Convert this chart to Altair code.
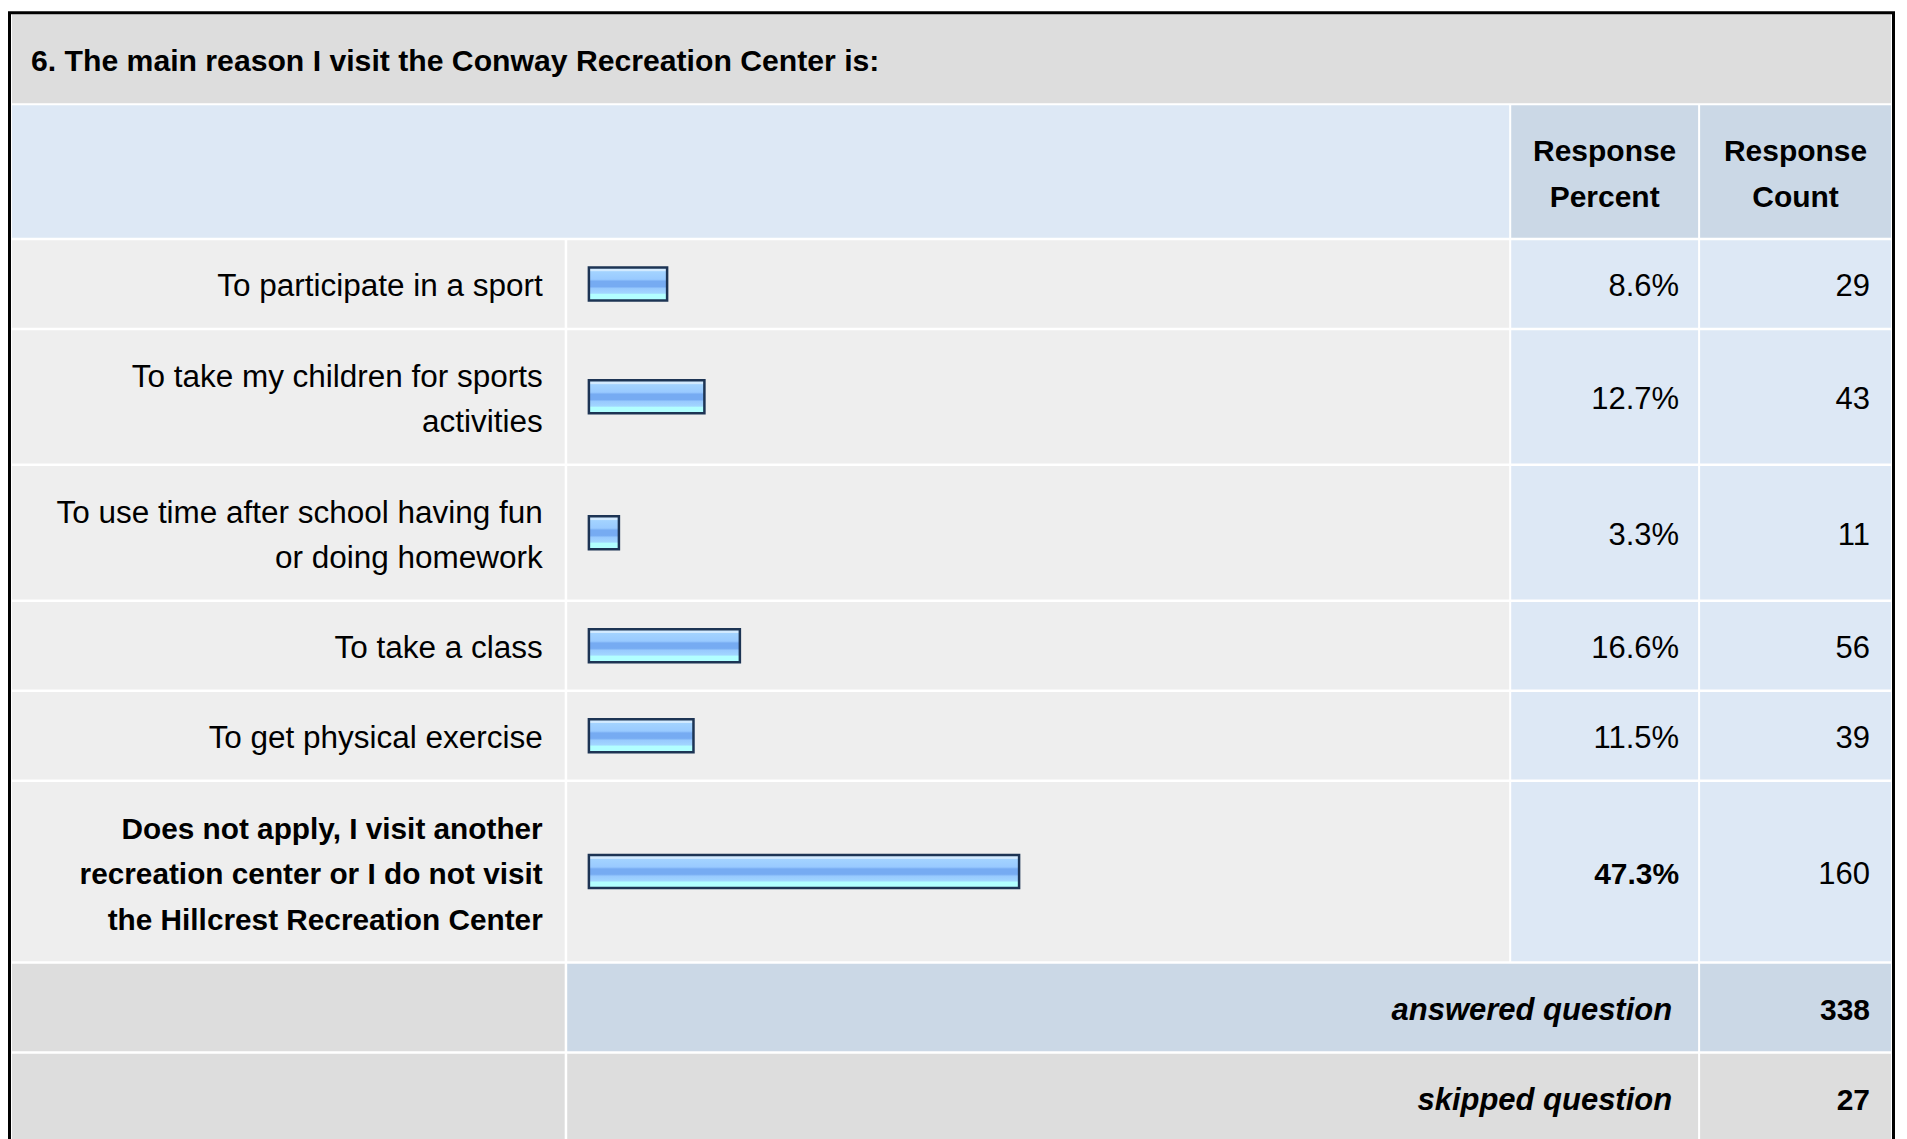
import altair as alt
import pandas as pd

# ---------------- data ----------------
title = "6. The main reason I visit the Conway Recreation Center is:"
header_cols = ["Response\nPercent", "Response\nCount"]
labels = [
    "To participate in a sport",
    "To take my children for sports\nactivities",
    "To use time after school having fun\nor doing homework",
    "To take a class",
    "To get physical exercise",
    "Does not apply, I visit another\nrecreation center or I do not visit\nthe Hillcrest Recreation Center",
]
percents = [8.6, 12.7, 3.3, 16.6, 11.5, 47.3]
counts = [29, 43, 11, 56, 39, 160]
highlight = [False, False, False, False, False, True]
summary_labels = ["answered question", "skipped question"]
summary_counts = [338, 27]

# ---------------- layout (page pixels) ----------------
OX, OY = 8, 8
FONT = "Liberation Sans, Arial, Helvetica, sans-serif"
C_LABEL = (12, 565)
C_BAR = (567.5, 1510)
C_PCT = (1512, 1699)
C_CNT = (1701, 1892)
TITLE_ROW = (14, 103)
HEADER_ROW = (105, 237.5)
FIRST_TOP = 240
GAP = 2.5
LINE_H = 45.5
ROW_BASE = 87.5
ROW_PER_LINE = 46
SUMMARY_H = 87.5
BAR_X0 = 589.2
BAR_FULL = 910
BAR_HALF = 16.5
TEXT_DY = 3.5

GRAY_TITLE = "#dddddd"
BLUE_LIGHT = "#dde8f5"
BLUE_DARK = "#cbd8e6"
GRAY_ROW = "#eeeeee"


def px(v):
    return v - OX


def py(v):
    return v - OY


def text_y(center, text):
    n = text.count("\n") + 1
    return py(center + TEXT_DY - (n - 1) * LINE_H / 2)


cells = []


def cell(xr, yr, fill):
    cells.append({"x": px(xr[0]), "x2": px(xr[1]), "y": py(yr[0]), "y2": py(yr[1]), "fill": fill})


cell((C_LABEL[0], C_CNT[1]), TITLE_ROW, GRAY_TITLE)
cell((C_LABEL[0], C_BAR[1]), HEADER_ROW, BLUE_LIGHT)
cell(C_PCT, HEADER_ROW, BLUE_DARK)
cell(C_CNT, HEADER_ROW, BLUE_DARK)

rows = []
top = FIRST_TOP
for lab, p, c, h in zip(labels, percents, counts, highlight):
    n = lab.count("\n") + 1
    bottom = top + ROW_BASE + ROW_PER_LINE * (n - 1)
    yr = (top, bottom)
    cell(C_LABEL, yr, GRAY_ROW)
    cell(C_BAR, yr, GRAY_ROW)
    cell(C_PCT, yr, BLUE_LIGHT)
    cell(C_CNT, yr, BLUE_LIGHT)
    cy = (top + bottom) / 2
    rows.append({
        "label": lab, "pct": p, "zero": 0, "count": str(c), "pct_txt": f"{p}%",
        "bold": h, "ty": py(cy + TEXT_DY), "ly": text_y(cy, lab),
        "bar_top": py(cy - BAR_HALF), "bar_bot": py(cy + BAR_HALF),
        "lx": px(C_LABEL[1] - 22), "px_": px(C_PCT[1] - 19), "cx": px(C_CNT[1] - 21),
    })
    top = bottom + GAP

summ = []
for i, (sl, sc) in enumerate(zip(summary_labels, summary_counts)):
    bottom = top + SUMMARY_H
    yr = (top, bottom)
    if i == 0:
        cell(C_LABEL, yr, GRAY_TITLE)
        cell((C_BAR[0], C_PCT[1]), yr, BLUE_DARK)
        cell(C_CNT, yr, BLUE_DARK)
    else:
        cell(C_LABEL, yr, GRAY_TITLE)
        cell((C_BAR[0], C_PCT[1]), yr, GRAY_TITLE)
        cell(C_CNT, yr, GRAY_TITLE)
    cy = (top + bottom) / 2
    summ.append({"label": sl, "count": str(sc), "ty": py(cy + TEXT_DY),
                 "lx": px(C_PCT[1] - 26), "cx": px(C_CNT[1] - 21)})
    top = bottom + GAP

cells_df = pd.DataFrame(cells)
rows_df = pd.DataFrame(rows)
summ_df = pd.DataFrame(summ)
title_df = pd.DataFrame([{"t": title, "x": px(31), "y": text_y((TITLE_ROW[0] + TITLE_ROW[1]) / 2, title)}])
hc = (HEADER_ROW[0] + HEADER_ROW[1]) / 2
header_df = pd.DataFrame([
    {"t": header_cols[0], "x": px((C_PCT[0] + C_PCT[1]) / 2), "y": text_y(hc, header_cols[0])},
    {"t": header_cols[1], "x": px((C_CNT[0] + C_CNT[1]) / 2), "y": text_y(hc, header_cols[1])},
])
border_df = pd.DataFrame([{"x": px(9.5), "x2": px(1894.5), "y": py(12.5), "y2": py(1160)}])

X0 = alt.X("x:Q", scale=None, axis=None)
Y0 = alt.Y("y:Q", scale=None, axis=None)

cells_layer = alt.Chart(cells_df).mark_rect().encode(
    x=X0, x2="x2:Q", y=Y0, y2="y2:Q",
    color=alt.Color("fill:N", scale=None, legend=None),
)

border_layer = alt.Chart(border_df).mark_rect(fillOpacity=0, stroke="#000000", strokeWidth=3).encode(
    x=X0, x2="x2:Q", y=Y0, y2="y2:Q",
)

grad = alt.Gradient(
    gradient="linear", x1=0, x2=0, y1=0, y2=1,
    stops=[
        alt.GradientStop(offset=0.0, color="#d2eaff"),
        alt.GradientStop(offset=0.1, color="#d2eaff"),
        alt.GradientStop(offset=0.13, color="#a3d3ff"),
        alt.GradientStop(offset=0.36, color="#99caff"),
        alt.GradientStop(offset=0.42, color="#76abf2"),
        alt.GradientStop(offset=0.58, color="#76abf2"),
        alt.GradientStop(offset=0.64, color="#98cafe"),
        alt.GradientStop(offset=0.78, color="#a2d6ff"),
        alt.GradientStop(offset=0.82, color="#b2ffff"),
        alt.GradientStop(offset=1.0, color="#b2ffff"),
    ],
)

bars_layer = alt.Chart(rows_df).mark_rect(fill=grad, stroke="#1d3454", strokeWidth=2.5).encode(
    x=alt.X("pct:Q", scale=alt.Scale(domain=[0, 100], range=[px(BAR_X0), px(BAR_X0) + BAR_FULL]), axis=None),
    x2="zero:Q",
    y=alt.Y("bar_top:Q", scale=None, axis=None),
    y2="bar_bot:Q",
)

txt = dict(font=FONT, baseline="middle", color="#000000", lineBreak="\n", lineHeight=LINE_H)

title_layer = alt.Chart(title_df).mark_text(align="left", fontSize=30.2, fontWeight="bold", **txt).encode(
    x=X0, y=Y0, text="t:N")

header_layer = alt.Chart(header_df).mark_text(align="center", fontSize=30, fontWeight="bold", **txt).encode(
    x=X0, y=Y0, text="t:N")

YT = alt.Y("ty:Q", scale=None, axis=None)
YL = alt.Y("ly:Q", scale=None, axis=None)

label_reg = alt.Chart(rows_df).transform_filter("!datum.bold").mark_text(align="right", fontSize=31.5, **txt).encode(
    x=alt.X("lx:Q", scale=None, axis=None), y=YL, text="label:N")
label_bold = alt.Chart(rows_df).transform_filter("datum.bold").mark_text(align="right", fontSize=29.8, fontWeight="bold", **txt).encode(
    x=alt.X("lx:Q", scale=None, axis=None), y=YL, text="label:N")
pct_reg = alt.Chart(rows_df).transform_filter("!datum.bold").mark_text(align="right", fontSize=31, **txt).encode(
    x=alt.X("px_:Q", scale=None, axis=None), y=YT, text="pct_txt:N")
pct_bold = alt.Chart(rows_df).transform_filter("datum.bold").mark_text(align="right", fontSize=30, fontWeight="bold", **txt).encode(
    x=alt.X("px_:Q", scale=None, axis=None), y=YT, text="pct_txt:N")
cnt_layer = alt.Chart(rows_df).mark_text(align="right", fontSize=31, **txt).encode(
    x=alt.X("cx:Q", scale=None, axis=None), y=YT, text="count:N")

summ_lab = alt.Chart(summ_df).mark_text(align="right", fontSize=31, fontWeight="bold", fontStyle="italic", **txt).encode(
    x=alt.X("lx:Q", scale=None, axis=None), y=YT, text="label:N")
summ_cnt = alt.Chart(summ_df).mark_text(align="right", fontSize=30, fontWeight="bold", **txt).encode(
    x=alt.X("cx:Q", scale=None, axis=None), y=YT, text="count:N")

chart = alt.layer(
    cells_layer, bars_layer, title_layer, header_layer,
    label_reg, label_bold, pct_reg, pct_bold, cnt_layer,
    summ_lab, summ_cnt, border_layer,
).resolve_scale(x="independent", y="independent").properties(
    width=1892, height=1131, padding=0,
    autosize=alt.AutoSizeParams(type="none"),
).configure_view(strokeWidth=0)

chart.save("out.html", embed_options={"renderer": "svg", "actions": False})
